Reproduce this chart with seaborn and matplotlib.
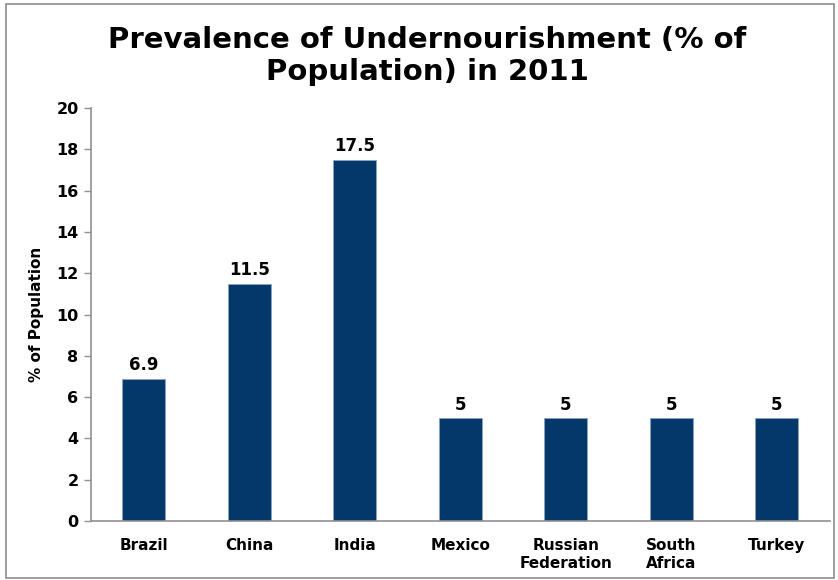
import matplotlib.pyplot as plt
import matplotlib.patches as mpatches
import numpy as np
import pandas as pd
import seaborn as sns

# Data
countries = ['Brazil', 'China', 'India', 'Mexico', 'Russian\nFederation', 'South\nAfrica', 'Turkey']
values = [6.9, 11.5, 17.5, 5, 5, 5, 5]
labels = ['6.9', '11.5', '17.5', '5', '5', '5', '5']

df = pd.DataFrame({'country': countries, 'value': values})

sns.set_style('white')
plt.rcParams['font.family'] = ['DejaVu Sans']
plt.rcParams['text.color'] = 'black'
plt.rcParams['axes.labelcolor'] = 'black'
plt.rcParams['xtick.labelcolor'] = 'black'
plt.rcParams['ytick.labelcolor'] = 'black'

fig = plt.figure(figsize=(8.38, 5.80), dpi=100)
ax = fig.add_axes([0.1086, 0.1017, 0.8814, 0.7121])

sns.barplot(data=df, x='country', y='value', color='#04386b', width=0.41,
            edgecolor='#8aa4c0', linewidth=0.6, saturation=1, ax=ax)

# value labels
for i, (v, t) in enumerate(zip(values, labels)):
    ax.text(i, v + 0.2, t, ha='center', va='bottom', fontsize=12, weight='bold')

ax.set_ylim(0, 20)
ax.set_xlim(-0.5, len(countries) - 0.5)
ax.set_yticks(range(0, 21, 2))
ax.set_yticklabels(range(0, 21, 2), fontsize=11.5, weight='bold')
ax.set_xticks(range(len(countries)))
ax.set_xticklabels(countries, fontsize=11, weight='bold', linespacing=1.25)
ax.tick_params(axis='x', length=0, pad=12)
ax.set_xticks(np.arange(-0.5, len(countries), 1), minor=True)
ax.tick_params(axis='x', which='minor', length=5, color='#909090', width=1)
ax.tick_params(axis='y', length=5, color='#909090', width=1, left=True, pad=4)

ax.set_xlabel('')
ax.set_ylabel('% of Population', fontsize=11, weight='bold', labelpad=9)

sns.despine(ax=ax, top=True, right=True)
for s in ['left', 'bottom']:
    ax.spines[s].set_color('#909090')
    ax.spines[s].set_linewidth(1.2)

fig.suptitle('Prevalence of Undernourishment (% of\nPopulation) in 2011',
             x=0.51, y=0.955, fontsize=21, weight='bold', linespacing=1.2)

# outer border
fig.patches.append(mpatches.Rectangle((0.007, 0.003), 0.988, 0.99, transform=fig.transFigure,
                                      fill=False, edgecolor='#8c8c8c', linewidth=1.2))

plt.savefig('out.png', dpi=100)
